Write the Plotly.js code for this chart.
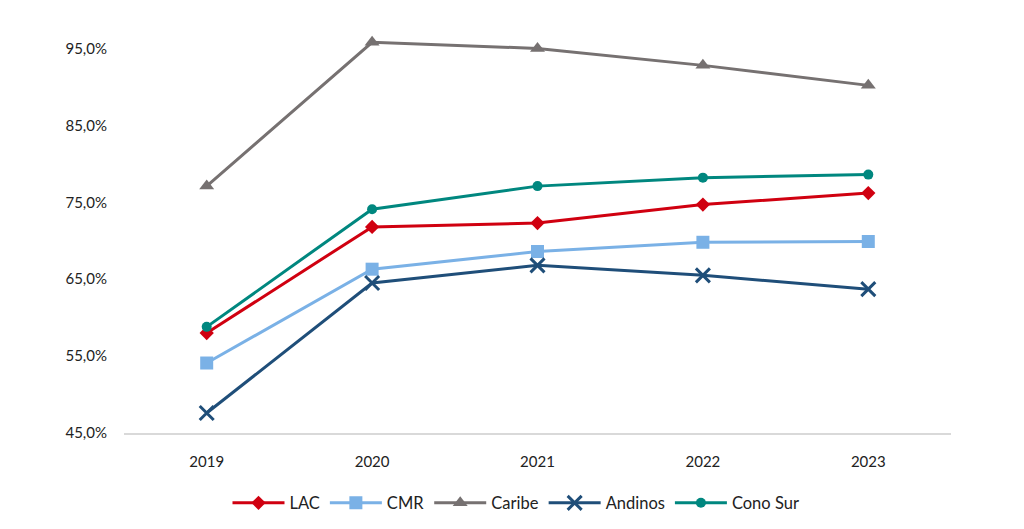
<!DOCTYPE html>
<html>
<head>
<meta charset="utf-8">
<script src="https://cdn.plot.ly/plotly-3.0.1.min.js"></script>
<style>html,body{margin:0;padding:0;background:#fff;}#chart{width:1024px;height:529px;}</style>
</head>
<body>
<div id="chart"></div>
<script>
var years = ["2019", "2020", "2021", "2022", "2023"];
var lac = [58.0, 71.8, 72.3, 74.7, 76.2];
var cmr = [54.1, 66.3, 68.6, 69.8, 69.9];
var caribe = [77.1, 95.8, 95.0, 92.8, 90.2];
var andinos = [47.6, 64.5, 66.8, 65.5, 63.7];
var conoSur = [58.8, 74.1, 77.1, 78.2, 78.6];
var yTicks = [45, 55, 65, 75, 85, 95];
var yTickText = yTicks.map(function (v) { return v.toFixed(1).replace(".", ",") + "%"; });

function tr(name, y, color, symbol, size, extra) {
  var m = {symbol: symbol, size: size, color: color};
  if (extra) { m.line = {color: color, width: 3}; }
  return {x: years, y: y, name: name, type: "scatter", mode: "lines+markers",
    line: {color: color, width: 3}, marker: m};
}

var data = [
  tr("LAC", lac, "#D00010", "diamond", 11),
  tr("CMR", cmr, "#7AB1E6", "square", 13),
  tr("Caribe", caribe, "#767171", "triangle-up", 13),
  tr("Andinos", andinos, "#1F4E79", "x-thin", 14, true),
  tr("Cono Sur", conoSur, "#00877F", "circle", 10)
];

var layout = {
  width: 1024, height: 529,
  margin: {l: 124, r: 73, t: 10, b: 95},
  paper_bgcolor: "#fff", plot_bgcolor: "#fff",
  font: {family: "Lato, 'Open Sans', sans-serif", size: 15, color: "#222"},
  showlegend: true,
  legend: {orientation: "h", x: 0.474, xanchor: "center", y: -0.163, yanchor: "middle",
    font: {size: 16.5, color: "#222"}, itemwidth: 52, tracegroupgap: 0},
  xaxis: {type: "category", range: [-0.5, 4.5], showgrid: false, zeroline: false,
    showline: true, linecolor: "#d9d9d9", linewidth: 1.5, ticks: "", ticklabelstandoff: 14,
    tickfont: {size: 15}},
  yaxis: {range: [45, 100], tickmode: "array", tickvals: yTicks, ticktext: yTickText,
    showgrid: false, zeroline: false, showline: false, ticks: "", ticklabelstandoff: 16,
    tickfont: {size: 15}}
};

Plotly.newPlot("chart", data, layout, {displayModeBar: false, staticPlot: true});
</script>
</body>
</html>
